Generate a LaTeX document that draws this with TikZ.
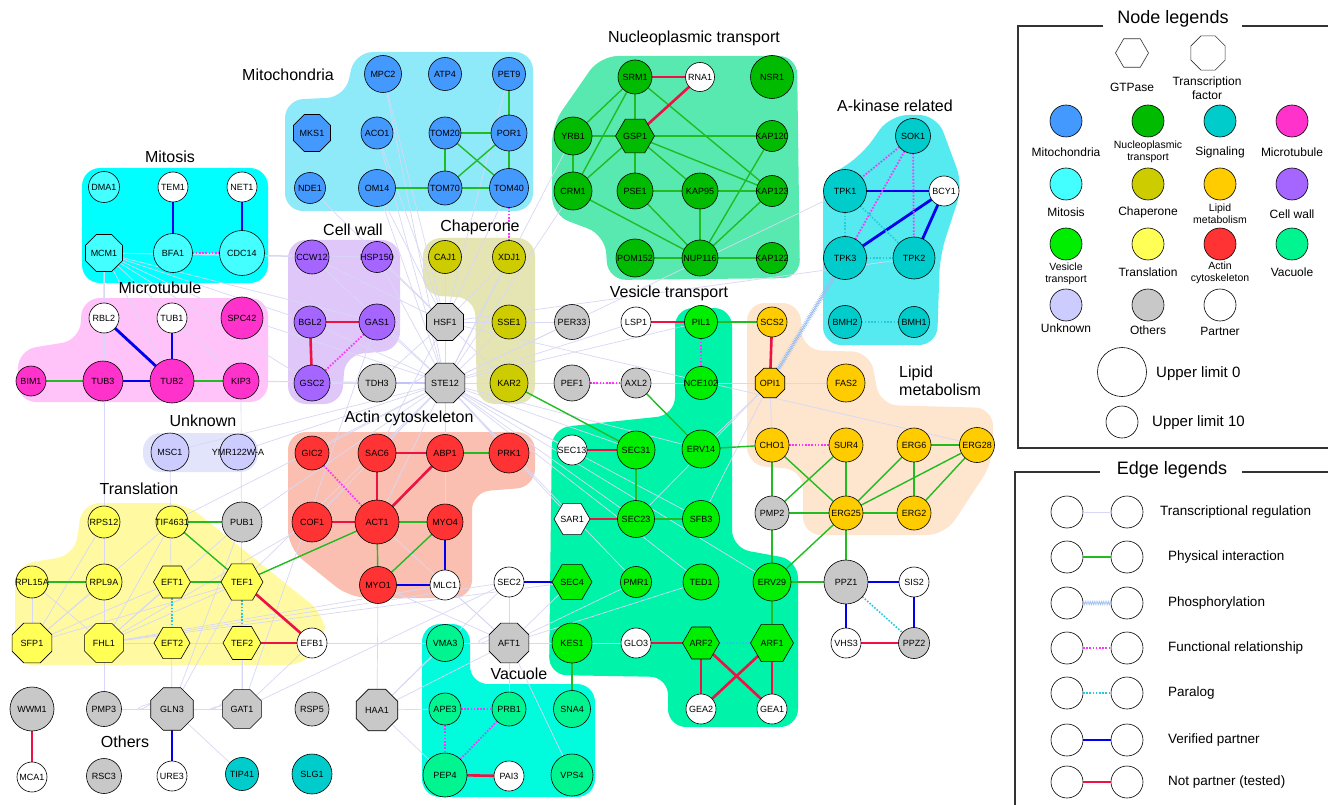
\documentclass[tikz,border=0pt]{standalone}
\usepackage{fontspec}
\setmainfont{Liberation Sans}
\usetikzlibrary{shapes.geometric,decorations.pathmorphing}
\pgfdeclarelayer{bg}
\pgfdeclarelayer{edges}
\pgfsetlayers{bg,edges,main}
% node fills
\definecolor{mito}{HTML}{4499FF}
\definecolor{nucl}{HTML}{00BB00}
\definecolor{sig}{HTML}{00CCCC}
\definecolor{mtub}{HTML}{FF33CC}
\definecolor{mits}{HTML}{44FFFF}
\definecolor{chap}{HTML}{CCCC00}
\definecolor{lipid}{HTML}{FFCC00}
\definecolor{cwall}{HTML}{A566FF}
\definecolor{ves}{HTML}{00EE00}
\definecolor{transl}{HTML}{FFFF55}
\definecolor{actin}{HTML}{FF3333}
\definecolor{vac}{HTML}{00F590}
\definecolor{unk}{HTML}{CCCCFF}
\definecolor{oth}{HTML}{C8C8C8}
% cluster backgrounds
\definecolor{bgmito}{HTML}{8EE9F9}
\definecolor{bgnucl}{HTML}{57E9B0}
\definecolor{bgakin}{HTML}{55EAEF}
\definecolor{bgmits}{HTML}{00FFFF}
\definecolor{bgmtub}{HTML}{FFC2F9}
\definecolor{bgcw}{HTML}{E0C7F9}
\definecolor{bgchap}{HTML}{E5E5B3}
\definecolor{bgunk}{HTML}{E1E4FA}
\definecolor{bgtr}{HTML}{FFFAA2}
\definecolor{bgact}{HTML}{FABFB0}
\definecolor{bgves}{HTML}{00F4A9}
\definecolor{bgvac}{HTML}{00FBDD}
\definecolor{bglip}{HTML}{FDE5CE}
% edges
\definecolor{physc}{HTML}{22BB22}
\definecolor{verc}{HTML}{0000EE}
\definecolor{notc}{HTML}{EE1144}
\definecolor{funcc}{HTML}{FF33FF}
\definecolor{parac}{HTML}{22CCDD}
\definecolor{transc}{HTML}{D8D8F6}
\definecolor{phosc}{HTML}{9CBDF0}
\definecolor{framec}{HTML}{333333}
\tikzset{
  nbase/.style={draw=black, line width=0.6pt, inner sep=0pt, outer sep=0pt},
  gc/.style={nbase, circle, minimum size=#1pt},
  gh/.style={nbase, regular polygon, regular polygon sides=6, minimum size=#1pt},
  go/.style={nbase, regular polygon, regular polygon sides=8, minimum size=#1pt},
  every label/.style={font=\fontsize{9}{10}\selectfont, inner sep=0pt},
  ephys/.style={draw=physc, line width=1.4pt},
  ever/.style={draw=verc, line width=2.8pt},
  evert/.style={draw=verc, line width=1.2pt},
  enotp/.style={draw=notc, line width=2.6pt},
  efunc/.style={draw=funcc, line width=1.8pt, dash pattern=on 1.6pt off 1.6pt},
  epara/.style={draw=parac, line width=1.6pt, dash pattern=on 1.6pt off 1.6pt},
  etrans/.style={draw=transc, line width=0.7pt},
  ephos/.style={draw=phosc, line width=0.5pt, decorate, decoration={zigzag, amplitude=1.8pt, segment length=1.8pt}},
  clus/.style={rounded corners=18pt},
  ctitle/.style={font=\fontsize{16}{18}\selectfont, inner sep=0pt},
  lgt/.style={font=\fontsize{12}{14}\selectfont, inner sep=0pt, align=center},
  lgs/.style={font=\fontsize{10.5}{12}\selectfont, inner sep=0pt, align=center},
  lge/.style={font=\fontsize{13.5}{15}\selectfont, inner sep=0pt, anchor=west},
  lgh/.style={font=\fontsize{18}{20}\selectfont, inner sep=0pt},
  lframe/.style={draw=framec, line width=1.3pt},
}
\newcommand\G[5]{\node[#1=#5,fill=#2,label=center:#3] (#3) at (#4) {};}
\begin{document}
\begin{tikzpicture}[x=1pt,y=-1pt]
\useasboundingbox (0,0) rectangle (1328,805);
\begin{pgfonlayer}{bg}
\fill[white] (0,0) rectangle (1328,805);
\fill[bgmito,clus] (285,100) -- (345,97) -- (355,52) -- (533,52) -- (533,211) -- (285,211) -- cycle;
\fill[bgnucl,clus] (552,215) -- (552,125) -- (600,56) -- (797,56) -- (800,278) -- (608,280) -- (605,235) -- cycle;
\fill[bgakin,clus] (823,345) -- (823,180) -- (862,155) -- (890,115) -- (937,115) -- (963,185) -- (940,255) -- (937,345) -- cycle;
\fill[bgmits,clus] (82,168) rectangle (268,283);
\fill[bgmtub,clus] (18,402) -- (18,350) -- (80,340) -- (82,298) -- (268,298) -- (268,402) -- cycle;
\fill[bgcw,clus] (288,240) -- (400,240) -- (400,350) -- (345,355) -- (342,404) -- (288,404) -- cycle;
\fill[bgchap,clus] (423,238) -- (535,238) -- (535,404) -- (477,404) -- (475,298) -- (423,295) -- cycle;
\fill[bgunk,clus] (143,433) rectangle (258,472);
\fill[bgtr,clus] (15,665) -- (15,565) -- (75,555) -- (82,503) -- (185,503) -- (325,615) -- (325,640) -- (305,665) -- cycle;
\fill[bgact,clus] (288,432) -- (535,432) -- (535,487) -- (472,492) -- (472,598) -- (350,598) -- (288,548) -- cycle;
\fill[bgves,clus] (675,308) -- (732,308) -- (732,548) -- (798,560) -- (798,727) -- (668,727) -- (668,677) -- (549,675) -- (552,428) -- (675,415) -- cycle;
\fill[bgvac,clus] (422,624) -- (470,624) -- (470,684) -- (595,684) -- (595,797) -- (422,797) -- cycle;
\fill[bglip,clus] (747,303) -- (800,303) -- (803,350) -- (870,352) -- (880,405) -- (993,408) -- (993,462) -- (945,535) -- (803,535) -- (803,470) -- (747,465) -- cycle;
\end{pgfonlayer}

% cluster titles
\node[ctitle] (tMito) at (288,75) {Mitochondria};
\node[ctitle] (tNucl) at (694,38) {Nucleoplasmic transport};
\node[ctitle] (tAkin) at (895,106) {A-kinase related};
\node[ctitle] (tMits) at (170,157) {Mitosis};
\node[ctitle] (tMtub) at (160,288) {Microtubule};
\node[ctitle] (tCw) at (353,230) {Cell wall};
\node[ctitle] (tChap) at (480,227) {Chaperone};
\node[ctitle] (tVes) at (669,293) {Vesicle transport};
\node[ctitle] (tUnk) at (203,421) {Unknown};
\node[ctitle] (tAct) at (409,418) {Actin cytoskeleton};
\node[ctitle] (tTr) at (139,489) {Translation};
\node[ctitle] (tOth) at (125,742) {Others};
\node[ctitle] (tVac) at (519,674) {Vacuole};
\node[ctitle, anchor=west, align=left] (tLip) at (899,381) {Lipid\\metabolism};

% Mitochondria
\G{gc}{mito}{MPC2}{383,74}{37}
\G{gc}{mito}{ATP4}{445,74}{33}
\G{gc}{mito}{PET9}{509,74}{33}
\G{go}{mito}{MKS1}{312,133}{40}
\G{gc}{mito}{ACO1}{377,133}{32}
\G{gc}{mito}{TOM20}{445,133}{32}
\G{gc}{mito}{POR1}{509,133}{36}
\G{gc}{mito}{NDE1}{310,188}{31}
\G{gc}{mito}{OM14}{377,188}{37}
\G{gc}{mito}{TOM70}{445,188}{34}
\G{gc}{mito}{TOM40}{509,188}{39}
% Nucleoplasmic transport
\G{gc}{nucl}{SRM1}{635,77}{34}
\G{gc}{white}{RNA1}{700,77}{29}
\G{gc}{nucl}{NSR1}{772,77}{43}
\G{gc}{nucl}{YRB1}{573,136}{38}
\G{gh}{nucl}{GSP1}{635,136}{39}
\G{gc}{nucl}{KAP120}{772,136}{31}
\G{gc}{nucl}{CRM1}{573,191}{38}
\G{gc}{nucl}{PSE1}{635,191}{36}
\G{gc}{nucl}{KAP95}{700,191}{36}
\G{gc}{nucl}{KAP123}{772,191}{31}
\G{gc}{nucl}{POM152}{635,258}{38}
\G{gc}{nucl}{NUP116}{700,258}{36}
\G{gc}{nucl}{KAP122}{772,258}{31}
% A-kinase
\G{gc}{sig}{SOK1}{913,136}{35}
\G{gc}{sig}{TPK1}{845,191}{43}
\G{gc}{white}{BCY1}{944,191}{30}
\G{gc}{sig}{TPK3}{845,258}{43}
\G{gc}{sig}{TPK2}{914,258}{42}
\G{gc}{sig}{BMH2}{845,322}{33}
\G{gc}{sig}{BMH1}{914,322}{31}
% Mitosis
\G{gc}{mits}{DMA1}{104,187}{31}
\G{gc}{white}{TEM1}{173,187}{30}
\G{gc}{white}{NET1}{242,187}{30}
\G{go}{mits}{MCM1}{104,253}{40}
\G{gc}{mits}{BFA1}{173,253}{39}
\G{gc}{mits}{CDC14}{242,253}{45}
% Microtubule
\G{gc}{white}{RBL2}{104,318}{30}
\G{gc}{white}{TUB1}{172,318}{30}
\G{gc}{mtub}{SPC42}{242,318}{42}
\G{gc}{mtub}{BIM1}{31,381}{30}
\G{gc}{mtub}{TUB3}{103,381}{40}
\G{gc}{mtub}{TUB2}{172,381}{44}
\G{gc}{mtub}{KIP3}{241,381}{36}
% Cell wall
\G{gc}{cwall}{CCW12}{312,257}{34}
\G{gc}{cwall}{HSP150}{377,257}{31}
\G{gc}{cwall}{BGL2}{310,322}{32}
\G{gc}{cwall}{GAS1}{377,322}{36}
\G{gc}{cwall}{GSC2}{312,383}{36}
% Chaperone
\G{gc}{chap}{CAJ1}{445,257}{33}
\G{gc}{chap}{XDJ1}{509,257}{33}
\G{gc}{chap}{SSE1}{509,322}{34}
\G{gc}{chap}{KAR2}{509,383}{38}
% middle others
\G{go}{oth}{HSF1}{445,322}{40}
\G{go}{oth}{STE12}{445,383}{43}
\G{gc}{oth}{TDH3}{377,383}{38}
\G{gc}{oth}{PER33}{572,322}{35}
\G{gc}{oth}{PEF1}{572,383}{36}
\G{gc}{oth}{AXL2}{636,383}{30}
\G{gc}{white}{LSP1}{636,322}{30}
% Unknown
\G{gc}{unk}{MSC1}{170,452}{38}
\node[gc=36,fill=unk,label=center:YMR122W-A] (YMR) at (238,452) {};
% Translation
\G{gc}{transl}{RPS12}{104,522}{32}
\G{gc}{transl}{TIF4631}{172,522}{32}
\G{gc}{oth}{PUB1}{242,522}{40}
\G{gc}{transl}{RPL15A}{32,582}{32}
\G{gc}{transl}{RPL9A}{104,582}{36}
\G{gh}{transl}{EFT1}{172,582}{37}
\G{gh}{transl}{TEF1}{242,582}{42}
\G{go}{transl}{SFP1}{32,643}{43}
\G{go}{transl}{FHL1}{104,643}{42}
\G{gh}{transl}{EFT2}{172,643}{36}
\G{gh}{transl}{TEF2}{242,643}{38}
\G{gc}{white}{EFB1}{312,643}{30}
% bottom others
\G{gc}{oth}{WWM1}{32,709}{44}
\G{gc}{oth}{PMP3}{104,709}{35}
\G{go}{oth}{GLN3}{172,709}{46}
\G{go}{oth}{GAT1}{242,709}{42}
\G{gc}{oth}{RSP5}{312,709}{34}
\G{go}{oth}{HAA1}{377,710}{45}
\G{gc}{white}{MCA1}{32,777}{30}
\G{gc}{oth}{RSC3}{104,776}{35}
\G{gc}{white}{URE3}{172,776}{30}
\G{gc}{sig}{TIP41}{242,774}{33}
\G{gc}{sig}{SLG1}{312,774}{40}
% Actin
\G{gc}{actin}{GIC2}{312,453}{34}
\G{gc}{actin}{SAC6}{377,453}{38}
\G{gc}{actin}{ABP1}{445,453}{37}
\G{gc}{actin}{PRK1}{509,453}{40}
\G{gc}{actin}{COF1}{312,522}{40}
\G{gc}{actin}{ACT1}{377,522}{44}
\G{gc}{actin}{MYO4}{445,522}{36}
\G{gc}{actin}{MYO1}{378,585}{37}
\G{gc}{white}{MLC1}{445,585}{30}
% Vesicle transport
\G{gc}{ves}{PIL1}{701,322}{33}
\G{gc}{ves}{NCE102}{701,383}{33}
\G{gc}{white}{SEC13}{572,450}{30}
\G{gc}{ves}{SEC31}{636,450}{38}
\G{gc}{ves}{ERV14}{701,449}{38}
\G{gh}{white}{SAR1}{572,519}{36}
\G{gc}{ves}{SEC23}{636,519}{37}
\G{gc}{ves}{SFB3}{701,519}{37}
\G{gc}{white}{SEC2}{509,582}{30}
\G{gh}{ves}{SEC4}{572,582}{40}
\G{gc}{ves}{PMR1}{636,582}{31}
\G{gc}{ves}{TED1}{701,582}{36}
\G{gc}{ves}{ERV29}{772,582}{38}
\G{gc}{ves}{KES1}{572,643}{40}
\G{gc}{white}{GLO3}{636,643}{30}
\G{gh}{ves}{ARF2}{701,643}{37}
\G{gh}{ves}{ARF1}{772,643}{43}
\G{gc}{white}{GEA2}{701,709}{30}
\G{gc}{white}{GEA1}{772,709}{30}
% Vacuole
\G{gc}{vac}{VMA3}{445,643}{37}
\G{go}{oth}{AFT1}{509,643}{43}
\G{gc}{vac}{APE3}{445,709}{32}
\G{gc}{vac}{PRB1}{509,709}{34}
\G{gc}{vac}{SNA4}{572,709}{37}
\G{gc}{vac}{PEP4}{445,775}{44}
\G{gc}{white}{PAI3}{509,776}{30}
\G{gc}{vac}{VPS4}{572,775}{42}
% Lipid metabolism
\G{gc}{lipid}{SCS2}{772,322}{30}
\G{go}{lipid}{OPI1}{770,383}{32}
\G{gc}{lipid}{FAS2}{846,383}{38}
\G{gc}{lipid}{CHO1}{772,445}{34}
\G{gc}{lipid}{SUR4}{846,445}{34}
\G{gc}{lipid}{ERG6}{914,445}{34}
\G{gc}{lipid}{ERG28}{977,445}{35}
\G{gc}{oth}{PMP2}{772,513}{34}
\G{gc}{lipid}{ERG25}{846,513}{34}
\G{gc}{lipid}{ERG2}{914,513}{34}
% PPZ group
\G{gc}{oth}{PPZ1}{846,582}{44}
\G{gc}{white}{SIS2}{914,582}{30}
\G{gc}{white}{VHS3}{846,643}{30}
\G{gc}{oth}{PPZ2}{914,643}{31}

\begin{pgfonlayer}{edges}
% transcriptional regulation
\foreach \t in {HSF1,KAR2,SSE1,CAJ1,XDJ1,PER33,PEF1,AXL2,LSP1,GAS1,BGL2,CCW12,HSP150,GSC2,KIP3,TUB2,SPC42,ACO1,OM14,MPC2,SAC6,ABP1,ACT1,GIC2,PRK1,MYO4,SEC13,SEC31,ERV14,NCE102,PIL1,CRM1,YRB1,TPK1,MSC1,YMR,TIF4631,PUB1,TEF1,COF1,SEC23,SAR1,TED1,SFB3,ERV29,PMR1}
  \draw[etrans] (STE12) -- (\t);
\draw[draw=transc!70!blue!60, line width=1.3pt] (STE12) -- (TDH3);
\foreach \t in {SSE1,CAJ1,XDJ1,KAR2,MPC2,NDE1,ACO1,OM14,PET9,HSP150,TOM40,ERG28,PER33,SAC6,TDH3,CCW12,TPK2}
  \draw[etrans] (HSF1) -- (\t);
\foreach \t in {RPS12,RPL9A,RPL15A,EFT1,EFT2,TEF1,TEF2,EFB1,TIF4631,PMP3,PUB1,SEC2,AFT1,VMA3,GLO3,KES1,MLC1,SEC4,COF1}
  \draw[etrans] (FHL1) -- (\t);
\foreach \t in {RPL15A,RPL9A,RPS12,TIF4631,EFT1,TEF1}
  \draw[etrans] (SFP1) -- (\t);
\foreach \t in {BFA1,CDC14,CCW12,GSC2,TUB2,SPC42,KIP3,BGL2,TUB3,RPS12,HSP150,GAS1}
  \draw[etrans] (MCM1) -- (\t);
\foreach \t in {PMP3,GAT1,TIP41,PUB1,TEF1,MSC1}
  \draw[etrans] (GLN3) -- (\t);
\foreach \t in {TEF2,EFB1,KIP3,GAS1,SEC2}
  \draw[etrans] (GAT1) -- (\t);
\foreach \t in {SEC4,VMA3,KES1,SEC2,MLC1,GLO3,MYO1,PMR1,ACT1,TED1,PRB1,HAA1,VPS4}
  \draw[etrans] (AFT1) -- (\t);
\foreach \t in {VMA3,APE3,PEP4,MYO1,SEC2}
  \draw[etrans] (HAA1) -- (\t);
\foreach \t in {FAS2,NCE102,CHO1,ERV14,SFB3,SEC23}
  \draw[etrans] (OPI1) -- (\t);
\draw[etrans] (GLN3.115) .. controls +(115:30) and +(165:30) .. (GLN3.165);
\draw[etrans] (GAT1.120) .. controls +(120:28) and +(170:28) .. (GAT1.170);
\draw[etrans] (AFT1.110) .. controls +(110:28) and +(160:28) .. (AFT1.160);
\draw[etrans] (STE12.130) .. controls +(130:28) and +(180:28) .. (STE12.180);
% physical interaction
\foreach \a/\b in {PET9/POR1,TOM20/POR1,TOM20/TOM70,TOM20/TOM40,POR1/TOM70,POR1/TOM40,OM14/TOM70,TOM70/TOM40,
  SRM1/YRB1,SRM1/GSP1,SRM1/CRM1,SRM1/KAP123,YRB1/GSP1,YRB1/CRM1,GSP1/CRM1,GSP1/PSE1,GSP1/KAP120,GSP1/KAP123,GSP1/KAP95,
  PSE1/KAP95,PSE1/NUP116,CRM1/NUP116,KAP95/KAP123,KAP95/NUP116,NUP116/KAP120,NUP116/KAP123,NUP116/KAP122,POM152/NUP116,
  TIF4631/PUB1,TIF4631/TEF1,RPL15A/RPL9A,EFT1/TEF1,TEF1/ACT1,BIM1/TUB3,TUB2/KIP3,
  ABP1/PRK1,ACT1/MYO4,ACT1/MYO1,MYO4/MYO1,
  KAR2/SEC31,AXL2/ERV14,SEC31/SEC23,SEC23/SFB3,ERV14/CHO1,PIL1/SCS2,KES1/SNA4,ERV29/ARF1,ERV29/PPZ1,ERV29/PMP2,ERV29/ERG25,ERG25/PPZ1,
  CHO1/PMP2,CHO1/ERG25,SUR4/PMP2,SUR4/ERG25,ERG6/ERG28,ERG6/ERG25,ERG6/ERG2,ERG28/ERG25,ERG28/ERG2,PMP2/ERG25,ERG25/ERG2}
  \draw[ephys] (\a) -- (\b);
% verified partner
\foreach \a/\b in {TEM1/BFA1,NET1/CDC14,RBL2/TUB2,TPK1/BCY1,TPK3/BCY1,TPK2/BCY1,MYO4/MLC1,MYO1/MLC1,SEC2/SEC4,GLN3/URE3,PPZ1/SIS2,PPZ1/VHS3,SIS2/PPZ2}
  \draw[ever] (\a) -- (\b);
\draw[evert] (TUB1) -- (TUB2);
\draw[evert] (TUB3) -- (TUB2);
% not partner
\foreach \a/\b in {SRM1/RNA1,GSP1/RNA1,BGL2/GAS1,BGL2/GSC2,SAC6/ABP1,SAC6/ACT1,ABP1/ACT1,COF1/ACT1,TEF1/EFB1,TEF2/EFB1,WWM1/MCA1,LSP1/PIL1,
  SEC13/SEC31,SAR1/SEC23,GLO3/ARF2,ARF2/GEA2,ARF2/GEA1,ARF1/GEA2,ARF1/GEA1,PEP4/PAI3,SCS2/OPI1,VHS3/PPZ2}
  \draw[enotp] (\a) -- (\b);
% functional relationship
\foreach \a/\b in {TOM40/XDJ1,BFA1/CDC14,GAS1/GSC2,GIC2/ACT1,PEF1/AXL2,PIL1/NCE102,CHO1/SUR4,SOK1/TPK1,SOK1/TPK3,SOK1/TPK2,APE3/PRB1,APE3/PEP4,PRB1/PEP4}
  \draw[efunc] (\a) -- (\b);
% paralog
\foreach \a/\b in {EFT1/EFT2,TEF1/TEF2,TPK1/TPK3,TPK1/TPK2,TPK3/TPK2,BMH2/BMH1,ARF2/ARF1,PPZ1/PPZ2}
  \draw[epara] (\a) -- (\b);
% phosphorylation
\draw[ephos] (TPK3) -- (OPI1);
\end{pgfonlayer}

% ---------- Node legends ----------
\draw[lframe] (1103,26) -- (1018,26) -- (1018,448) -- (1328,448);
\draw[lframe] (1242,26) -- (1328,26);
\node[lgh] (hNode) at (1173,19) {Node legends};
\node[gh=33,fill=white,draw=framec] (Lgtp) at (1132,53) {};
\node[go=37,fill=white,draw=framec] (Ltf) at (1208,53) {};
\node[lgt] (tGtp) at (1132,87) {GTPase};
\node[lgt] (tTf) at (1207,88) {Transcription\\factor};
\node[gc=32,fill=mito] (L1) at (1066,121) {};
\node[gc=32,fill=nucl] (L2) at (1148,121) {};
\node[gc=32,fill=sig] (L3) at (1220,121) {};
\node[gc=32,fill=mtub] (L4) at (1292,121) {};
\node[lgt] (tL1) at (1066,152) {Mitochondria};
\node[lgs] (tL2) at (1148,152) {Nucleoplasmic\\transport};
\node[lgt] (tL3) at (1220,152) {Signaling};
\node[lgt] (tL4) at (1292,152) {Microtubule};
\node[gc=32,fill=mits] (L5) at (1066,184) {};
\node[gc=32,fill=chap] (L6) at (1148,184) {};
\node[gc=32,fill=lipid] (L7) at (1220,184) {};
\node[gc=32,fill=cwall] (L8) at (1292,184) {};
\node[lgt] (tL5) at (1066,212) {Mitosis};
\node[lgt] (tL6) at (1148,212) {Chaperone};
\node[lgs] (tL7) at (1220,214) {Lipid\\metabolism};
\node[lgt] (tL8) at (1292,214) {Cell wall};
\node[gc=32,fill=ves] (L9) at (1066,244) {};
\node[gc=32,fill=transl] (L10) at (1148,244) {};
\node[gc=32,fill=actin] (L11) at (1220,244) {};
\node[gc=32,fill=vac] (L12) at (1292,244) {};
\node[lgs] (tL9) at (1066,274) {Vesicle\\transport};
\node[lgt] (tL10) at (1148,272) {Translation};
\node[lgs] (tL11) at (1220,273) {Actin\\cytoskeleton};
\node[lgt] (tL12) at (1292,272) {Vacuole};
\node[gc=32,fill=unk] (L13) at (1066,305) {};
\node[gc=32,fill=oth] (L14) at (1148,305) {};
\node[gc=32,fill=white] (L15) at (1220,305) {};
\node[lgt] (tL13) at (1066,328) {Unknown};
\node[lgt] (tL14) at (1148,330) {Others};
\node[lgt] (tL15) at (1220,331) {Partner};
\node[gc=49,fill=white] (Lbig) at (1122,372) {};
\node[gc=32,fill=white] (Lsml) at (1122,422) {};
\node[lge, font=\fontsize{15}{17}\selectfont] (tBig) at (1156,374) {Upper limit 0};
\node[lge, font=\fontsize{15}{17}\selectfont] (tSml) at (1152,423) {Upper limit 10};

% ---------- Edge legends ----------
\draw[lframe] (1100,472) -- (1015,472) -- (1015,805);
\draw[lframe] (1242,472) -- (1328,472);
\node[lgh] (hEdge) at (1172,470) {Edge legends};
\foreach \i/\y in {1/512,2/557,3/603,4/648,5/693,6/740,7/782} {
  \node[gc=32,fill=white] (Ea\i) at (1067,\y) {};
  \node[gc=32,fill=white] (Eb\i) at (1127,\y) {};
}
\draw[etrans] (Ea1) -- (Eb1);
\draw[ephys] (Ea2) -- (Eb2);
\draw[ephos] (Ea3) -- (Eb3);
\draw[efunc] (Ea4) -- (Eb4);
\draw[epara] (Ea5) -- (Eb5);
\draw[ever] (Ea6) -- (Eb6);
\draw[enotp] (Ea7) -- (Eb7);
\node[lge] (tE1) at (1160,512) {Transcriptional regulation};
\node[lge] (tE2) at (1168,557) {Physical interaction};
\node[lge] (tE3) at (1168,603) {Phosphorylation};
\node[lge] (tE4) at (1168,648) {Functional relationship};
\node[lge] (tE5) at (1168,693) {Paralog};
\node[lge] (tE6) at (1168,740) {Verified partner};
\node[lge] (tE7) at (1168,782) {Not partner (tested)};
\end{tikzpicture}
\end{document}
